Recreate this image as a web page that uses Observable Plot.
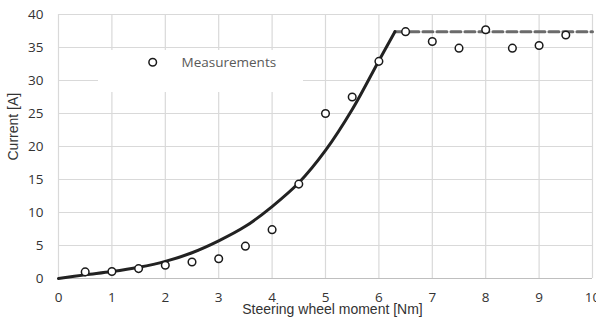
<!DOCTYPE html>
<html>
<head>
<meta charset="utf-8">
<script src="https://cdn.jsdelivr.net/npm/d3@7"></script>
<script src="https://cdn.jsdelivr.net/npm/@observablehq/plot@0.6"></script>
<style>
  html, body { margin: 0; padding: 0; background: #fff; overflow: hidden; }
  #chart svg { display: block; }
</style>
</head>
<body>
<div id="chart"></div>
<script>
// Measured points
const measX = [0.5, 1, 1.5, 2, 2.5, 3, 3.5, 4, 4.5, 5, 5.5, 6, 6.5, 7, 7.5, 8, 8.5, 9, 9.5];
const measY = [1.0, 1.05, 1.5, 2.0, 2.5, 3.0, 4.9, 7.4, 14.3, 25.0, 27.5, 32.9, 37.4, 35.9, 34.9, 37.7, 34.9, 35.3, 36.9];

// Model curve
const curveX = [0, 0.5, 1, 1.5, 2, 2.5, 3, 3.5, 4, 4.5, 5, 5.5, 6, 6.3];
const curveY = [0, 0.55, 1.05, 1.7, 2.6, 3.9, 5.7, 7.9, 10.9, 14.5, 19.4, 25.6, 33.0, 37.4];

// Saturation level (dashed)
const satX = [6.3, 10];
const satY = [37.4, 37.4];

const xTicks = [0, 1, 2, 3, 4, 5, 6, 7, 8, 9, 10];
const yTicks = [0, 5, 10, 15, 20, 25, 30, 35, 40];

const seriesName = "Measurements";
const xTitle = "Steering wheel moment [Nm]";
const yTitle = "Current [A]";

const meas = measX.map((x, i) => ({x, y: measY[i]}));
const curve = curveX.map((x, i) => ({x, y: curveY[i]}));
const sat = satX.map((x, i) => ({x, y: satY[i]}));

const W = 596, H = 318;
const mL = 58, mR = 4, mT = 14, mB = 40;

const plot = Plot.plot({
  width: W,
  height: H,
  marginLeft: mL,
  marginRight: mR,
  marginTop: mT,
  marginBottom: mB,
  style: {background: "#fff", overflow: "hidden"},
  x: {domain: [0, 10]},
  y: {domain: [0, 40]},
  marks: [
    Plot.gridX(xTicks, {stroke: "#d9d9d9", strokeOpacity: 1, strokeWidth: 1.2}),
    Plot.gridY(yTicks, {stroke: "#d9d9d9", strokeOpacity: 1, strokeWidth: 1.2}),
    Plot.ruleY([0], {stroke: "#bfbfbf", strokeWidth: 1.2}),
    Plot.axisY(yTicks, {tickSize: 0, tickPadding: 15, fontSize: 13.5, fontFamily: "Open Sans", fill: "#333", label: null}),
    Plot.axisX(xTicks, {tickSize: 0, tickPadding: 14, fontSize: 13.5, fontFamily: "Open Sans", fill: "#333", label: null}),
    Plot.line(sat, {x: "x", y: "y", stroke: "#6b6b6b", strokeWidth: 3, strokeDasharray: "10,4"}),
    Plot.line(curve, {x: "x", y: "y", stroke: "#222", strokeWidth: 3, curve: "catmull-rom"}),
    Plot.dot(meas, {x: "x", y: "y", r: 3.8, stroke: "#1a1a1a", strokeWidth: 1.5, fill: "#fff"}),
    Plot.text([xTitle], {frameAnchor: "bottom", dx: 7, dy: 35.5, lineAnchor: "bottom", fontSize: 14, fontFamily: "Liberation Sans", fill: "#333"}),
    Plot.text([yTitle], {frameAnchor: "left", dx: -45, dy: 14, rotate: -90, fontSize: 14, fontFamily: "Liberation Sans", fill: "#333"})
  ]
});

// Legend box drawn inside the plot area
const svg = d3.select(plot);
const lg = svg.append("g").attr("text-anchor", "start");
lg.append("rect").attr("x", 98).attr("y", 50).attr("width", 205).attr("height", 42).attr("fill", "#fff");
lg.append("circle").attr("cx", 152.7).attr("cy", 62.3).attr("r", 3.8)
  .attr("fill", "#fff").attr("stroke", "#1a1a1a").attr("stroke-width", 1.5);
lg.append("text").attr("x", 181.5).attr("y", 67).attr("text-anchor", "start").text(seriesName)
  .attr("font-family", "Open Sans").attr("font-size", 13.5).attr("fill", "#595959");

document.getElementById("chart").appendChild(plot);
</script>
</body>
</html>
